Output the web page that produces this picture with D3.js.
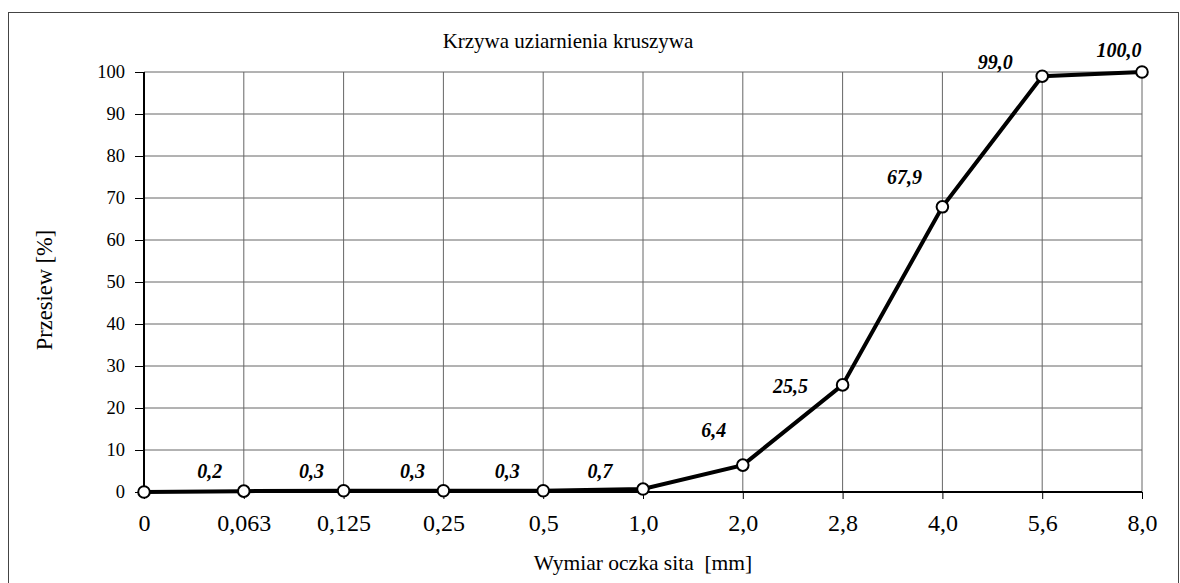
<!DOCTYPE html>
<html>
<head>
<meta charset="utf-8">
<script src="https://cdn.jsdelivr.net/npm/d3@7"></script>
<style>
  body { margin: 0; background: #fff; }
  svg { display: block; font-family: "Liberation Serif", "Times New Roman", serif; }
  .grid line { stroke: #666; stroke-width: 1; }
  .label { font-weight: bold; font-style: italic; font-size: 20px; }
</style>
</head>
<body>
<svg id="chart" width="1180" height="583"></svg>
<script>
// sieve sizes (categories) and passing percentage
const sieves = ["0", "0,063", "0,125", "0,25", "0,5", "1,0", "2,0", "2,8", "4,0", "5,6", "8,0"];
const passing = [0, 0.2, 0.3, 0.3, 0.3, 0.7, 6.4, 25.5, 67.9, 99.0, 100.0];
const labels = ["", "0,2", "0,3", "0,3", "0,3", "0,7", "6,4", "25,5", "67,9", "99,0", "100,0"];
const yTicks = [0, 10, 20, 30, 40, 50, 60, 70, 80, 90, 100];

const svg = d3.select("#chart");
const margin = {left: 144, right: 38, top: 72, bottom: 91};
const width = 1180, height = 583;

// frame around the whole chart
svg.append("rect")
    .attr("x", 8.5).attr("y", 12.5)
    .attr("width", 1170).attr("height", 575)
    .attr("fill", "none").attr("stroke", "#444").attr("stroke-width", 1);

const x = d3.scalePoint()
    .domain(sieves)
    .range([margin.left, width - margin.right]);

const y = d3.scaleLinear()
    .domain([0, 100])
    .range([height - margin.bottom, margin.top]);

// grid
const grid = svg.append("g").attr("class", "grid");
grid.selectAll("line.v")
    .data(sieves.slice(1))
    .enter().append("line")
    .attr("x1", d => x(d)).attr("x2", d => x(d))
    .attr("y1", y(0)).attr("y2", y(100))
    .attr("stroke", d => d === "8,0" ? "#999" : null)
    .attr("stroke-width", d => d === "8,0" ? 2 : null);
grid.selectAll("line.h")
    .data(yTicks.slice(1))
    .enter().append("line")
    .attr("x1", x("0")).attr("x2", x("8,0"))
    .attr("y1", d => y(d)).attr("y2", d => y(d))
    .attr("stroke", d => d === 100 ? "#888" : null)
    .attr("stroke-width", d => d === 100 ? 2 : null);

// axes
const yAxis = svg.append("g")
    .attr("transform", `translate(${margin.left},0)`)
    .call(d3.axisLeft(y).tickValues(yTicks).tickSize(9).tickPadding(10));
yAxis.select(".domain").attr("stroke-width", 2).attr("d", `M0,${y(0)}V${y(100)}`);
yAxis.selectAll("text").attr("font-size", 18.5).attr("font-family", "Liberation Serif");

const xAxis = svg.append("g")
    .attr("transform", `translate(0,${y(0)})`)
    .call(d3.axisBottom(x).tickSize(7).tickPadding(15));
xAxis.select(".domain").attr("stroke-width", 2).attr("d", `M${x("0")},0H${x("8,0")}`);
xAxis.selectAll("text").attr("font-size", 24).attr("font-family", "Liberation Serif");

// titles
svg.append("text")
    .attr("x", 568).attr("y", 48)
    .attr("text-anchor", "middle")
    .attr("font-size", 21)
    .text("Krzywa uziarnienia kruszywa");

svg.append("text")
    .attr("x", 643).attr("y", 570)
    .attr("text-anchor", "middle")
    .attr("font-size", 21.5)
    .attr("xml:space", "preserve")
    .text("Wymiar oczka sita  [mm]");

svg.append("text")
    .attr("transform", "translate(52,290) rotate(-90)")
    .attr("text-anchor", "middle")
    .attr("font-size", 22.5)
    .text("Przesiew [%]");

// curve
const line = d3.line()
    .x((d, i) => x(sieves[i]))
    .y(d => y(d));

svg.append("path")
    .datum(passing)
    .attr("d", line)
    .attr("fill", "none")
    .attr("stroke", "#000")
    .attr("stroke-width", 4);

svg.append("g").selectAll("circle")
    .data(passing)
    .enter().append("circle")
    .attr("cx", (d, i) => x(sieves[i]))
    .attr("cy", d => y(d))
    .attr("r", 5.8)
    .attr("fill", "#fff")
    .attr("stroke", "#000")
    .attr("stroke-width", 2);

// data labels were moved by hand in the original, shift them the same way
const labelShift = [[0, 0], [-34, -13], [-32, -13], [-31, -13], [-36, -13], [-43, -11],
    [-29, -28], [-52, 8], [-38, -23], [-47, -7], [-23, -15]];

svg.append("g").selectAll("text.label")
    .data(passing)
    .enter().append("text")
    .attr("class", "label")
    .attr("text-anchor", "middle")
    .attr("x", (d, i) => x(sieves[i]) + labelShift[i][0])
    .attr("y", (d, i) => y(d) + labelShift[i][1])
    .text((d, i) => labels[i]);
</script>
</body>
</html>
